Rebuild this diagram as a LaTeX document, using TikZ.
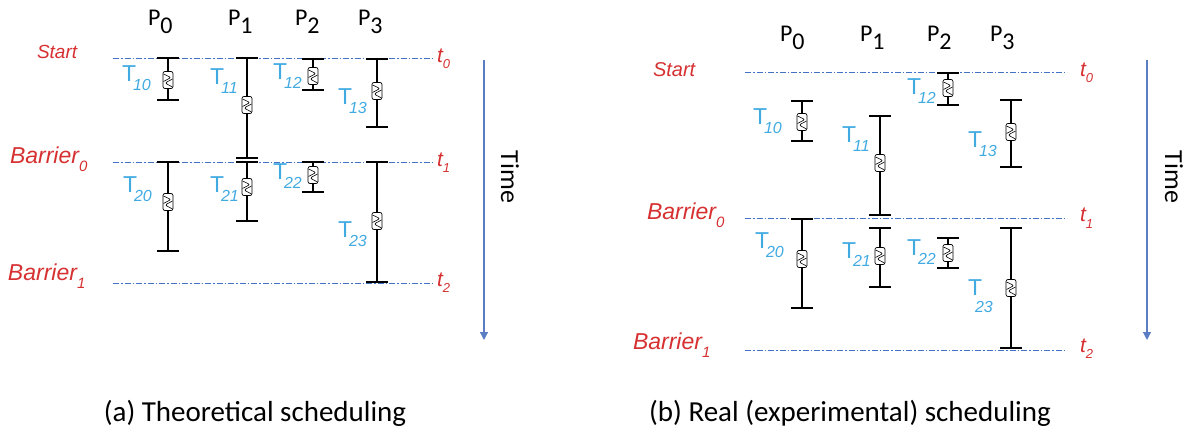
\documentclass[tikz,border=0pt]{standalone}
\usepackage{fontspec}
\setmainfont{Liberation Sans}
\newfontfamily\calfont{Carlito}
\usetikzlibrary{arrows.meta}

\definecolor{labred}{RGB}{214,48,49}
\definecolor{labblue}{RGB}{64,170,225}
\definecolor{linblue}{RGB}{68,114,196}
\definecolor{arrblue}{RGB}{90,125,195}

% lowered subscript used by all labels
\newcommand\lowsub[2]{\raisebox{-#1}{#2}}

\tikzset{
  every node/.style={inner sep=0pt, outer sep=0pt},
  proc/.style={anchor=base west, font=\calfont\fontsize{24}{24}\selectfont},
  redlab/.style={anchor=base west, text=labred, font=\itshape\fontsize{23}{23}\selectfont},
  tlab/.style={anchor=base west, text=labblue, font=\fontsize{23}{23}\selectfont},
  timelab/.style={rotate=-90, font=\calfont\fontsize{26}{26}\selectfont},
  caption/.style={font=\calfont\fontsize{29}{29}\selectfont},
  barrierline/.style={draw=linblue, line width=0.7pt,
    dash pattern=on 6pt off 2pt on 1.5pt off 2pt},
  bar/.style={draw=black, line width=2.3pt},
  timearrow/.style={draw=arrblue, line width=1.2pt,
    -{Triangle[width=8pt,length=8pt]}},
  glyph/.style={draw, fill=white, rounded corners=2pt, line width=0.7pt,
    minimum width=10pt, minimum height=17pt,
    path picture={
      \draw[line width=0.6pt]
        ([shift={(-4.5,-6)}]path picture bounding box.center)
        -- ([shift={(3,-2.5)}]path picture bounding box.center)
        -- ([shift={(-4.5,1.5)}]path picture bounding box.center);
      \draw[line width=0.6pt]
        ([shift={(4.5,-1)}]path picture bounding box.center)
        -- ([shift={(-3,3)}]path picture bounding box.center)
        -- ([shift={(4.5,7)}]path picture bounding box.center);
    }},
}

% task bar: name, x, top y, bottom y, icon y
\newcommand\taskbar[5]{%
  \coordinate (#1t) at (#2,#3);
  \coordinate (#1b) at (#2,#4);
  \draw[bar] (#1t) -- (#1b);
  \draw[bar] ([xshift=-11pt]#1t) -- ([xshift=11pt]#1t);
  \draw[bar] ([xshift=-11pt]#1b) -- ([xshift=11pt]#1b);
  \node[glyph] (#1g) at (#2,#5) {};
}

% task label: name, position, subscript
\newcommand\tasklabel[3]{%
  \node[tlab] (#1) at (#2) {T\kern-3pt\lowsub{9pt}{\itshape\fontsize{16}{16}\selectfont #3}};
}

\begin{document}
\begin{tikzpicture}[x=1pt, y=-1pt]
\useasboundingbox (0,0) rectangle (1184,433);

% ---------------- (a) theoretical scheduling ----------------
\node[proc] (aP0) at (148,26) {P\lowsub{8pt}{0}};
\node[proc] (aP1) at (228,26) {P\lowsub{8pt}{1}};
\node[proc] (aP2) at (295,26) {P\lowsub{8pt}{2}};
\node[proc] (aP3) at (358,26) {P\lowsub{8pt}{3}};

\node[redlab, font=\itshape\fontsize{19}{19}\selectfont] (aStart) at (37,59) {Start};
\node[redlab] (aB0) at (10,164) {Barrier\lowsub{8pt}{\fontsize{15}{15}\selectfont 0}};
\node[redlab] (aB1) at (8,280) {Barrier\lowsub{8pt}{\fontsize{15}{15}\selectfont 1}};

\coordinate (aL0s) at (113,58);  \coordinate (aL0e) at (433,58);
\coordinate (aL1s) at (113,162); \coordinate (aL1e) at (433,162);
\coordinate (aL2s) at (113,283); \coordinate (aL2e) at (433,283);
\draw[barrierline] (aL0s) -- (aL0e);
\draw[barrierline] (aL1s) -- (aL1e);
\draw[barrierline] (aL2s) -- (aL2e);

\node[redlab, font=\itshape\fontsize{21}{21}\selectfont] (at0) at (437,63) {t\lowsub{6pt}{\fontsize{13}{13}\selectfont 0}};
\node[redlab, font=\itshape\fontsize{21}{21}\selectfont] (at1) at (437,167) {t\lowsub{6pt}{\fontsize{13}{13}\selectfont 1}};
\node[redlab, font=\itshape\fontsize{21}{21}\selectfont] (at2) at (437,286) {t\lowsub{6pt}{\fontsize{13}{13}\selectfont 2}};

\taskbar{aT10}{168}{58}{100}{80}
\taskbar{aT11}{247}{58}{158}{105}
\taskbar{aT12}{313}{59}{90}{76}
\taskbar{aT13}{377}{59}{127}{91}
\taskbar{aT20}{168}{162}{251}{202}
\taskbar{aT21}{247}{162}{221}{187}
\taskbar{aT22}{313}{162}{192}{175}
\taskbar{aT23}{377}{162}{282}{221}

\tasklabel{aL10}{122,82}{10}
\tasklabel{aL11}{210,85}{11}
\tasklabel{aL12}{273,80}{12}
\tasklabel{aL13}{338,105}{13}
\tasklabel{aL20}{123,193}{20}
\tasklabel{aL21}{210,193}{21}
\tasklabel{aL22}{273,180}{22}
\tasklabel{aL23}{338,237}{23}

\coordinate (aTa) at (484,60); \coordinate (aTb) at (484,340);
\draw[timearrow] (aTa) -- (aTb);
\node[timelab] (aTime) at (510,177) {Time};

\node[caption] (capA) at (255,413) {(a) Theoretical scheduling};

% ---------------- (b) real (experimental) scheduling ----------------
\node[proc] (bP0) at (780,42) {P\lowsub{8pt}{0}};
\node[proc] (bP1) at (860,42) {P\lowsub{8pt}{1}};
\node[proc] (bP2) at (927,42) {P\lowsub{8pt}{2}};
\node[proc] (bP3) at (990,42) {P\lowsub{8pt}{3}};

\node[redlab, font=\itshape\fontsize{20}{20}\selectfont] (bStart) at (653,77) {Start};
\node[redlab] (bB0) at (647,219) {Barrier\lowsub{8pt}{\fontsize{15}{15}\selectfont 0}};
\node[redlab] (bB1) at (633,349) {Barrier\lowsub{8pt}{\fontsize{15}{15}\selectfont 1}};

\coordinate (bL0s) at (745,72);  \coordinate (bL0e) at (1067,72);
\coordinate (bL1s) at (745,218); \coordinate (bL1e) at (1067,218);
\coordinate (bL2s) at (745,350); \coordinate (bL2e) at (1067,350);
\draw[barrierline] (bL0s) -- (bL0e);
\draw[barrierline] (bL1s) -- (bL1e);
\draw[barrierline] (bL2s) -- (bL2e);

\node[redlab, font=\itshape\fontsize{21}{21}\selectfont] (bt0) at (1080,77) {t\lowsub{6pt}{\fontsize{13}{13}\selectfont 0}};
\node[redlab, font=\itshape\fontsize{21}{21}\selectfont] (bt1) at (1080,222) {t\lowsub{6pt}{\fontsize{13}{13}\selectfont 1}};
\node[redlab, font=\itshape\fontsize{21}{21}\selectfont] (bt2) at (1080,352) {t\lowsub{6pt}{\fontsize{13}{13}\selectfont 2}};

\taskbar{bT10}{802}{101}{141}{122}
\taskbar{bT11}{880}{116}{215}{163}
\taskbar{bT12}{948}{73}{105}{88}
\taskbar{bT13}{1011}{100}{167}{132}
\taskbar{bT20}{802}{219}{308}{259}
\taskbar{bT21}{880}{228}{287}{256}
\taskbar{bT22}{948}{238}{268}{253}
\taskbar{bT23}{1011}{228}{348}{288}

\tasklabel{bL10}{753,125}{10}
\tasklabel{bL11}{842,143}{11}
\tasklabel{bL12}{907,95}{12}
\tasklabel{bL13}{968,148}{13}
\tasklabel{bL20}{755,248}{20}
\tasklabel{bL21}{842,258}{21}
\tasklabel{bL22}{907,255}{22}
\node[tlab] (bL23) at (968,295) {T};
\node[tlab, font=\itshape\fontsize{16}{16}\selectfont] (bL23s) at (975,312) {23};

\coordinate (bTa) at (1147,60); \coordinate (bTb) at (1147,340);
\draw[timearrow] (bTa) -- (bTb);
\node[timelab] (bTime) at (1174,177) {Time};

\node[caption] (capB) at (850,413) {(b) Real (experimental) scheduling};
\end{tikzpicture}
\end{document}
